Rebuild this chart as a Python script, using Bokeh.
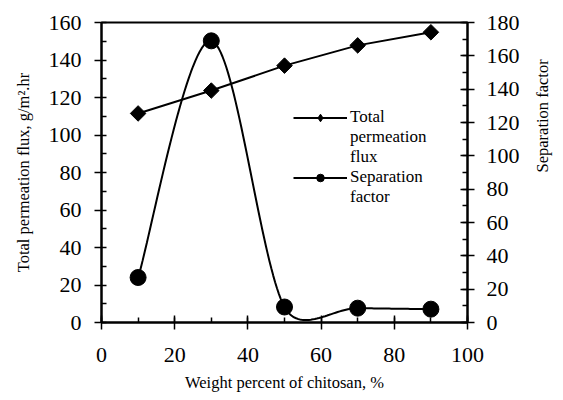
import numpy as np
from bokeh.plotting import figure
from bokeh.models import (LinearAxis, Range1d, SingleIntervalTicker, Legend,
                          LegendItem, ColumnDataSource)
from bokeh.embed import file_html
from bokeh.resources import INLINE

# ---- data ----
chitosan_wt = [10, 30, 50, 70, 90]
total_flux = [111.5, 123.7, 137.0, 147.8, 154.8]
separation_factor = [27.0, 169.0, 9.3, 8.6, 8.0]

FONT = "Liberation Serif"

FRAME_W, FRAME_H = 366, 300
X_MAX, Y_MAX, Y2_MAX = 100, 160, 180


def smooth_curve(xs, ys, sx, sy, n=40):
    """Excel-like smoothed line through the points (length-weighted Bezier)."""
    pts = np.column_stack([np.asarray(xs, float) * sx, np.asarray(ys, float) * sy])
    m = len(pts)
    out = []
    for i in range(m - 1):
        p0 = pts[i - 1] if i > 0 else pts[i]
        p1 = pts[i]
        p2 = pts[i + 1]
        p3 = pts[i + 2] if i + 2 < m else pts[i + 1]
        d01 = np.linalg.norm(p1 - p0)
        d12 = np.linalg.norm(p2 - p1)
        d23 = np.linalg.norm(p3 - p2)
        r1 = min(1.0, 2 * d12 / (d01 + d12)) ** 0.5
        r2 = min(1.0, 2 * d12 / (d12 + d23)) ** 0.5
        c1 = p1 + (p2 - p0) * r1 / 6.0
        c2 = p2 - (p3 - p1) * r2 / 6.0
        t = np.linspace(0, 1, n)[:, None]
        seg = ((1 - t) ** 3) * p1 + 3 * ((1 - t) ** 2) * t * c1 + 3 * (1 - t) * t ** 2 * c2 + t ** 3 * p2
        out.append(seg if i == 0 else seg[1:])
    arr = np.vstack(out)
    return arr[:, 0] / sx, arr[:, 1] / sy


p = figure(frame_width=FRAME_W, frame_height=FRAME_H,
           min_border_left=101, min_border_right=94,
           min_border_top=22, min_border_bottom=78,
           x_range=Range1d(0, X_MAX), y_range=Range1d(0, Y_MAX),
           output_backend="svg", toolbar_location=None)
p.extra_y_ranges = {"sep": Range1d(0, Y2_MAX)}

p.xgrid.visible = False
p.ygrid.visible = False
p.outline_line_color = "black"
p.outline_line_width = 2
p.background_fill_color = "white"
p.border_fill_color = "white"

# x axis
xa = p.xaxis[0]
xa.ticker = SingleIntervalTicker(interval=20, num_minor_ticks=2)
xa.axis_label = "Weight percent of chitosan, %"
xa.major_tick_in = 7
xa.major_tick_out = 7
xa.minor_tick_in = 5
xa.minor_tick_out = 0
xa.major_label_standoff = 18
xa.axis_label_standoff = 8

# left axis
ya = p.yaxis[0]
ya.ticker = SingleIntervalTicker(interval=20, num_minor_ticks=2)
ya.axis_label = "Total permeation flux, g/m\u00b2.hr"
ya.major_tick_in = 0
ya.major_tick_out = 7
ya.minor_tick_in = 5
ya.minor_tick_out = 0
ya.major_label_standoff = 13
ya.axis_label_standoff = 13

# right axis
ra = LinearAxis(y_range_name="sep",
                ticker=SingleIntervalTicker(interval=20, num_minor_ticks=2),
                axis_label="Separation factor")
ra.major_tick_in = 7
ra.major_tick_out = 7
ra.minor_tick_in = 5
ra.minor_tick_out = 0
ra.major_label_standoff = 12
ra.axis_label_standoff = 20
ra.axis_label_orientation = np.pi / 2
p.add_layout(ra, "right")

for ax in (xa, ya, ra):
    ax.axis_line_width = 2
    ax.axis_line_color = "black"
    ax.major_tick_line_width = 1.5
    ax.major_tick_line_color = "black"
    ax.minor_tick_line_width = 1.5
    ax.minor_tick_line_color = "black"
    ax.major_label_text_font = FONT
    ax.major_label_text_font_size = "22px"
    ax.major_label_text_color = "black"
    ax.axis_label_text_font = FONT
    ax.axis_label_text_font_size = "16.5px"
    ax.axis_label_text_font_style = "normal"
    ax.axis_label_text_color = "black"

src = ColumnDataSource(dict(x=chitosan_wt, flux=total_flux, sep=separation_factor))

flux_line = p.line("x", "flux", source=src, line_color="black", line_width=2)
p.scatter("x", "flux", source=src, marker="square", angle=np.pi / 4,
          size=11, fill_color="black", line_color="black")

sx_px = FRAME_W / X_MAX
sy_px = FRAME_H / Y2_MAX
cx, cy = smooth_curve(chitosan_wt, separation_factor, sx_px, sy_px)
sep_line = p.line(cx, cy, y_range_name="sep", line_color="black", line_width=2)
p.scatter("x", "sep", source=src, y_range_name="sep", marker="circle",
          size=16, fill_color="black", line_color="black")

# legend-only (hidden) marker renderers, and a blank one for wrapped label lines
flux_leg_mk = p.scatter("x", "flux", source=src, marker="diamond",
                        fill_color="black", line_color="black", visible=False)
sep_leg_mk = p.scatter("x", "sep", source=src, y_range_name="sep", marker="circle",
                       fill_color="black", line_color="black", visible=False)
blank = p.line(x=[], y=[], line_alpha=0)

legend = Legend(items=[
    LegendItem(label="Total", renderers=[flux_line, flux_leg_mk]),
    LegendItem(label="permeation", renderers=[blank]),
    LegendItem(label="flux", renderers=[blank]),
    LegendItem(label="Separation", renderers=[sep_line, sep_leg_mk]),
    LegendItem(label="factor", renderers=[blank]),
], location=(192, 115))
legend.border_line_color = None
legend.background_fill_alpha = 0
legend.padding = 0
legend.margin = 0
legend.spacing = 0
legend.glyph_width = 54
legend.glyph_height = 19
legend.label_height = 19
legend.label_standoff = 3
legend.label_text_font = FONT
legend.label_text_font_size = "17px"
legend.label_text_color = "black"
p.add_layout(legend, "center")

open("out.html", "w").write(file_html(p, INLINE))
